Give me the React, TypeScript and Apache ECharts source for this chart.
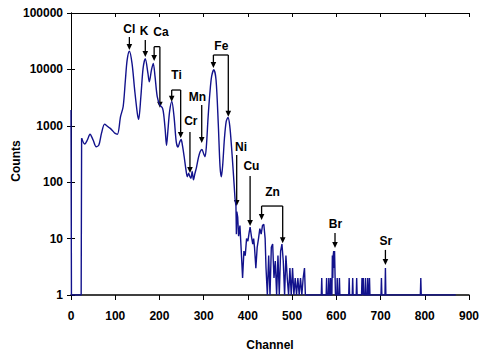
import React, { useEffect, useRef } from "react";
import * as echarts from "echarts";

// Spectrum: [channel, counts]
const headRegion: [number, number][] = [
  [0, 1900], [1, 1], [23, 1], [24, 600],
];

const peakRegion: [number, number][] = [
  [24, 600], [31, 475], [37, 560], [43, 710], [50, 560], [57, 425], [63, 455], [69, 740],
  [76, 1070], [82, 980], [88, 910], [94, 820], [99, 740], [105, 710], [112, 1450], [118, 2200],
  [123, 6500], [127, 14700], [132, 21000], [138, 12800], [144, 4300], [150, 1660], [153, 1300],
  [158, 3300], [163, 10400], [168, 15500], [174, 8500], [177, 6000], [182, 9800], [186, 12800],
  [190, 7500], [195, 3300], [201, 2340], [207, 2050], [210, 1500], [213, 850], [216, 450],
  [219, 800], [223, 1800], [228, 2700], [233, 1450], [238, 520], [242, 420], [246, 520],
  [249, 570], [252, 450], [256, 280], [260, 165], [263, 125], [266, 145], [268, 130], [271, 117],
  [274, 155], [277, 110], [280, 140], [284, 187], [288, 270], [292, 347], [296, 380], [300, 320],
  [303, 283], [306, 420], [310, 1400], [314, 3770], [318, 7500], [323, 9900], [328, 6500],
  [333, 1100], [337, 190], [340, 125], [343, 200], [347, 600], [351, 1200], [355, 1400],
  [359, 1000], [363, 420], [367, 150], [371, 50],
];

const noiseRegion: [number, number][] = [
  [371, 50], [373, 38], [374, 12], [375, 30], [377, 24], [379, 11], [382, 17], [385, 6], [388, 2],
  [391, 6], [394, 5], [397, 10], [400, 9], [403, 13], [405, 16], [408, 11], [411, 8], [413, 10],
  [415, 7], [418, 3], [421, 7], [424, 10], [427, 15], [430, 12], [433, 17], [436, 18], [439, 10],
  [441, 3], [444, 1], [447, 5], [450, 1], [453, 7], [456, 8], [459, 2], [462, 4], [465, 1],
  [468, 5], [471, 1], [474, 6], [477, 8], [480, 4], [483, 1], [486, 5], [489, 2], [492, 1],
  [495, 3], [498, 1], [501, 3], [504, 1], [507, 2], [510, 1], [513, 2], [516, 1], [519, 2],
  [522, 1], [525, 2], [528, 3], [530, 1],
];

const tailRegion: [number, number][] = [
  [530, 1], [566, 1], [567, 2], [568, 1], [577, 1], [578, 2], [579, 1], [582, 1], [583, 2], [584, 1],
  [586, 1], [587, 2], [588, 1], [590, 1], [591, 5], [592, 2], [593, 5], [594, 6], [595, 3], [596, 6],
  [597, 6], [598, 1], [601, 1], [602, 2], [603, 1], [606, 1], [607, 2], [608, 1], [628, 1], [629, 2],
  [630, 1], [636, 1], [637, 2], [638, 1], [645, 1], [646, 2], [647, 1], [657, 1], [658, 2], [659, 1],
  [660, 1], [661, 2], [662, 1], [665, 1], [666, 2], [667, 1], [670, 1], [671, 2], [672, 1], [674, 1],
  [675, 2], [676, 1], [701, 1], [702, 2], [703, 1], [710, 1], [711, 3], [712, 1], [790, 1], [791, 2],
  [792, 1], [870, 1],
];

// Element annotations (data coordinates: channel, counts)
const elementNames = ["Cl", "K", "Ca", "Ti", "Cr", "Mn", "Fe", "Ni", "Cu", "Zn", "Br", "Sr"];
const labelPos: [number, number][] = [
  [132, 53000], [165, 47000], [203.5, 46000], [238.6, 7800], [271, 1240], [286, 3240],
  [340, 26500], [384.5, 421], [408, 194], [455.7, 65.7], [598, 18.2], [712, 9.1],
];
const arrowTop = [37500, 33300, 25300, 4310, 780, 2340, 18000, 304, 129, 37.8, 12.6, 6.3];
const arrowTips: [number, number][][] = [
  [[132, 22100]],
  [[168, 16600]],
  [[188, 14100], [201, 2080]],
  [[227.7, 2670], [248, 610]],
  [[269, 146]],
  [[295.6, 495]],
  [[322, 10600], [355.7, 1450]],
  [[374.7, 37.8]],
  [[405, 16.7]],
  [[431, 21.3], [478.7, 8.3]],
  [[597, 6.8]],
  [[711, 3.4]],
];

const FONT = "Liberation Sans, Arial, sans-serif";
const LINE_COLOR = "#12128c";

export default function App() {
  const ref = useRef<HTMLDivElement>(null);
  useEffect(() => {
    if (!ref.current) return;
    const chart = echarts.init(ref.current, undefined, { renderer: "svg" });
    const lineSeries = (data: [number, number][], smooth: number | boolean) => ({
      type: "line",
      data,
      smooth,
      showSymbol: false,
      symbol: "none",
      lineStyle: { color: LINE_COLOR, width: 1.4 },
      z: 3,
    });
    const labelStyle = { fontFamily: FONT, fontWeight: "bold", fontSize: 12, color: "#000" };
    chart.setOption({
      animation: false,
      backgroundColor: "#fff",
      grid: { left: 71, right: 12, top: 13, bottom: 61, containLabel: false, outerBoundsMode: "none" },
      xAxis: [
        {
          type: "value", min: 0, max: 900, interval: 100, position: "bottom",
          axisLine: { show: true, lineStyle: { color: "#000", width: 1.5 } },
          axisTick: { show: true, inside: false, length: 5, lineStyle: { color: "#000", width: 1 } },
          axisLabel: { ...labelStyle, margin: 15 },
          splitLine: { show: false },
          name: "Channel", nameLocation: "middle", nameGap: 44,
          nameTextStyle: { fontFamily: FONT, fontWeight: "bold", fontSize: 12, color: "#000" },
        },
        {
          type: "value", min: 0, max: 900, interval: 100, position: "top",
          axisLine: { show: true, lineStyle: { color: "#000", width: 1 } },
          axisTick: { show: true, inside: true, length: 4, lineStyle: { color: "#000", width: 1 } },
          axisLabel: { show: false },
          splitLine: { show: false },
        },
      ],
      yAxis: [
        {
          type: "log", logBase: 10, min: 1, max: 100000, position: "left",
          axisLine: { show: true, lineStyle: { color: "#000", width: 1 } },
          axisTick: { show: true, inside: true, length: 4, lineStyle: { color: "#000", width: 1 } },
          axisLabel: { ...labelStyle, margin: 8, formatter: (v: number) => String(Math.round(v)) },
          splitLine: { show: false },
          minorTick: { show: false },
        },
        {
          type: "log", logBase: 10, min: 1, max: 100000, position: "right",
          axisLine: { show: true, lineStyle: { color: "#000", width: 1 } },
          axisTick: { show: true, inside: true, length: 4, lineStyle: { color: "#000", width: 1 } },
          axisLabel: { show: false },
          splitLine: { show: false },
        },
      ],
      series: [
        lineSeries(headRegion, false),
        lineSeries(peakRegion, 0.3),
        lineSeries(noiseRegion, false),
        lineSeries(tailRegion, false),
      ],
    });

    const toPx = (p: [number, number]) =>
      chart.convertToPixel({ xAxisIndex: 0, yAxisIndex: 0 }, p) as number[];
    const elements: any[] = [];
    const textStyle = (text: string) => ({
      text, fill: "#000", font: `bold 12px ${FONT}`,
      align: "center", verticalAlign: "middle", textAlign: "center", textVerticalAlign: "middle",
    });
    // y-axis title
    elements.push({
      type: "text", x: 16, y: 161, rotation: Math.PI / 2, silent: true,
      style: textStyle("Counts"),
    });
    const stroke = { stroke: "#000", lineWidth: 1.3 };
    elementNames.forEach((name, i) => {
      const lp = toPx(labelPos[i]);
      elements.push({
        type: "text", x: lp[0], y: lp[1], silent: true,
        style: textStyle(name),
      });
      const tips = arrowTips[i];
      const tops = tips.map((t) => toPx([t[0], arrowTop[i]]));
      if (tips.length > 1) {
        elements.push({
          type: "line", silent: true,
          shape: { x1: tops[0][0], y1: tops[0][1], x2: tops[tops.length - 1][0], y2: tops[0][1] },
          style: stroke,
        });
      }
      tips.forEach((t, j) => {
        const tp = toPx(t);
        const x = tops[j][0];
        elements.push({
          type: "line", silent: true,
          shape: { x1: x, y1: tops[j][1], x2: x, y2: tp[1] - 4 },
          style: stroke,
        });
        elements.push({
          type: "polygon", silent: true,
          shape: { points: [[x - 2.8, tp[1] - 6], [x + 2.8, tp[1] - 6], [x, tp[1]]] },
          style: { fill: "#000" },
        });
      });
    });
    chart.setOption({ graphic: elements });

    return () => chart.dispose();
  }, []);
  return (
    <div
      ref={ref}
      style={{ position: "fixed", left: 0, top: 0, width: 481, height: 356, background: "#fff" }}
    />
  );
}
